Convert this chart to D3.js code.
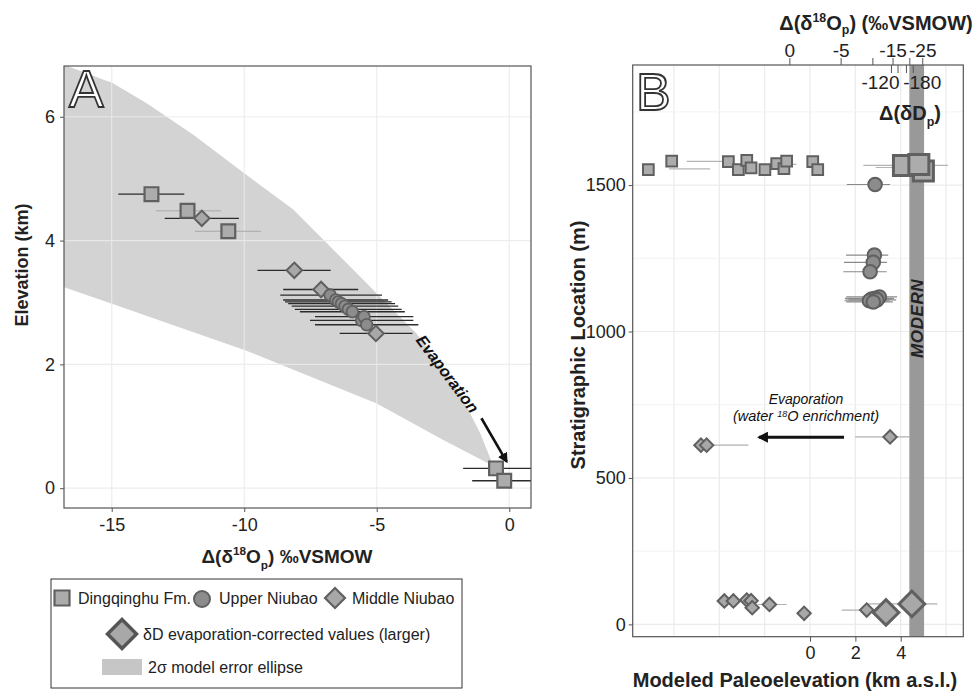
<!DOCTYPE html>
<html>
<head>
<meta charset="utf-8">
<script src="https://cdn.jsdelivr.net/npm/d3@7"></script>
<style>
  body { margin: 0; background: #fff; }
  svg { display: block; font-family: "Liberation Sans", Arial, sans-serif; }
</style>
</head>
<body>
<div id="chart"></div>
<script>
// ---------- Panel A data (Δ(δ18Op) ‰ vs elevation km) ----------
const aSqX  = [-13.5, -12.14, -10.6, -0.5, -0.19];
const aSqY  = [4.75, 4.48, 4.15, 0.32, 0.12];
const aSqLo = [-14.75, -13.34, -11.86, -1.74, -1.4];
const aSqHi = [-12.26, -10.88, -9.37, 0.9, 0.9];

const aCiX  = [-6.76, -6.55, -6.45, -6.33, -6.2, -6.07, -5.92, -5.57, -5.48, -5.38];
const aCiY  = [3.12, 3.04, 3.01, 2.98, 2.94, 2.89, 2.85, 2.71, 2.77, 2.64];
const aCiLo = [-8.64, -8.53, -8.46, -8.34, -8.21, -8.09, -7.9, -7.52, -7.33, -7.33];
const aCiHi = [-4.8, -4.57, -4.44, -4.31, -4.19, -4.06, -3.94, -3.62, -3.62, -3.43];

const aDiX  = [-11.6, -8.11, -7.1, -5.03];
const aDiY  = [4.36, 3.52, 3.21, 2.5];
const aDiLo = [-13.0, -9.5, -8.53, -6.4];
const aDiHi = [-10.2, -6.74, -5.7, -3.65];

// 2σ model error envelope
const bandUpX = [-17.5, -16.8, -14.95, -13.68, -11.92, -10.16, -8.15, -6.26, -3.5, -1.86, -1.1, -0.6];
const bandUpY = [7.2, 6.84, 6.54, 6.22, 5.71, 5.14, 4.5, 3.69, 2.5, 1.53, 0.89, 0.36];
const bandLoX = [-0.6, -2.49, -5.0, -9.97, -15.07, -17.5];
const bandLoY = [0.36, 0.78, 1.37, 2.23, 2.99, 3.35];

const aXTicks = [-15, -10, -5, 0];
const aYTicks = [0, 2, 4, 6];

// ---------- Panel B data (paleoelevation km vs stratigraphic m) ----------
const bSqElev  = [-7.13, -6.1, -3.6, -3.16, -2.79, -2.6, -1.99, -1.47, -1.15, -1.03, 0.12, 0.34];
const bSqStrat = [1553, 1582, 1580, 1553, 1584, 1559, 1553, 1573, 1556, 1582, 1580, 1553];
const bBigSqElev  = [5.0, 4.12, 4.8];
const bBigSqStrat = [1548, 1567, 1570];
const bSqBarStrat = [1581, 1555, 1571, 1567, 1560];
const bSqBarLo    = [-5.44, -6.22, -1.47, 2.35, 2.9];
const bSqBarHi    = [-3.68, -4.41, -0.6, 6.09, 5.3];

const bCiElev  = [2.87, 2.84, 2.79, 2.65, 3.06, 2.87, 2.72, 2.95, 2.62, 2.79];
const bCiStrat = [1502, 1261, 1236, 1204, 1118, 1113, 1111, 1108, 1105, 1101];
const bCiLo    = [1.62, 1.59, 1.5, 1.47, 1.6, 1.54, 1.56, 1.7, 1.52, 1.6];
const bCiHi    = [3.53, 3.45, 3.4, 3.38, 3.84, 3.7, 3.6, 3.8, 3.5, 3.65];

const bDiElev  = [3.53, -4.81, -4.56, -3.78, -3.38, -2.79, -2.6, -2.55, -1.79, -0.26, 2.5];
const bDiStrat = [640, 612, 612, 80, 80, 83, 81, 57, 68, 38, 49];
const bDiBarStrat = [640, 612, 68, 49];
const bDiBarLo    = [1.99, -4.56, -2.29, 1.4];
const bDiBarHi    = [4.38, -2.72, -1.03, 2.5];
const bBigDiElev  = [3.35, 4.49];
const bBigDiStrat = [41, 70];
const bBigDiBarLo = [3.35, 2.5];
const bBigDiBarHi = [3.35, 5.62];

const modernRange = [4.38, 5.03];
const bXTicks = [0, 2, 4];
const bXGrid  = [-6, -4, -2, 0, 2, 4, 6];
const bYTicks = [0, 500, 1000, 1500];
const bYMinor = [250, 750, 1250, 1750];

// secondary top axes (isotope values placed at their equivalent elevation)
const topO18Vals   = [0, -5, -10, -15, -20, -25];
const topO18Elev   = [-0.91, 1.35, 2.75, 3.64, 4.38, 4.95];
const topO18Labels = ["0", "-5", "", "-15", "", "-25"];
const topDDVals    = [-120, -140, -160, -180];
const topDDElev    = [3.57, 3.86, 4.23, 4.53];
const topDDLabels  = ["-120", "", "", "-180"];

// ---------- Setup ----------
const W = 974, H = 693;
const svg = d3.select("#chart").append("svg").attr("width", W).attr("height", H);

const FILL_SQ = "#acacac", FILL_CI = "#8c8c8c", FILL_DI = "#a8a8a8";
const STROKE_MK = "#606060";
const GRID = "#ebebeb";

const xA = d3.scaleLinear().domain([-16.8, 0.82]).range([64, 531]);
const yA = d3.scaleLinear().domain([-0.32, 6.82]).range([508, 66]);
const xB = d3.scaleLinear().domain([-7.82, 6.76]).range([632.7, 963.3]);
const yB = d3.scaleLinear().domain([-42, 1910]).range([636.7, 65]);

const defs = svg.append("defs");
defs.append("clipPath").attr("id", "clipA").append("rect")
  .attr("x", 64).attr("y", 66).attr("width", 467).attr("height", 442);
defs.append("clipPath").attr("id", "clipB").append("rect")
  .attr("x", 632.7).attr("y", 65).attr("width", 330.6).attr("height", 571.7);
defs.append("marker").attr("id", "arrow").attr("viewBox", "0 0 10 10")
  .attr("refX", 8).attr("refY", 5).attr("markerWidth", 4).attr("markerHeight", 4)
  .attr("orient", "auto")
  .append("path").attr("d", "M0,0 L10,5 L0,10 Z").attr("fill", "#111");

// rich text helper: parts = [[text, kind]]  kind: "", "sup", "sub"
function rich(sel, parts, size, supK = 0.4, subK = 0.3) {
  let shift = 0;
  parts.forEach(([t, kind]) => {
    const target = kind === "sup" ? -supK * size : kind === "sub" ? subK * size : 0;
    sel.append("tspan")
      .attr("dy", target - shift)
      .style("font-size", kind ? `${size * 0.62}px` : `${size}px`)
      .text(t);
    shift = target;
  });
}

const sym = (type, area) => d3.symbol().type(type).size(area)();

// ---------- Panel A ----------
const gA = svg.append("g");
const plotA = gA.append("g").attr("clip-path", "url(#clipA)");

const bandPts = bandUpX.map((x, i) => [x, bandUpY[i]])
  .concat(bandLoX.map((x, i) => [x, bandLoY[i]]));
plotA.append("path")
  .attr("d", d3.line().x(d => xA(d[0])).y(d => yA(d[1]))(bandPts) + "Z")
  .attr("fill", "#d3d3d3");

// grid
plotA.selectAll(".gx").data(aXTicks).enter().append("line")
  .attr("x1", d => xA(d)).attr("x2", d => xA(d)).attr("y1", 66).attr("y2", 508)
  .attr("stroke", GRID).attr("stroke-width", 1.2).attr("opacity", 0.85);
plotA.selectAll(".gy").data(aYTicks).enter().append("line")
  .attr("y1", d => yA(d)).attr("y2", d => yA(d)).attr("x1", 64).attr("x2", 531)
  .attr("stroke", GRID).attr("stroke-width", 1.2).attr("opacity", 0.85);

// error bars
const lightSq = [1, 2];
plotA.selectAll(".ebSq").data(aSqX).enter().append("line")
  .attr("x1", (d, i) => xA(aSqLo[i])).attr("x2", (d, i) => xA(aSqHi[i]))
  .attr("y1", (d, i) => yA(aSqY[i])).attr("y2", (d, i) => yA(aSqY[i]))
  .attr("stroke", (d, i) => lightSq.includes(i) ? "#a9a9a9" : "#2b2b2b")
  .attr("stroke-width", (d, i) => lightSq.includes(i) ? 1 : 1.3);
plotA.selectAll(".ebCi").data(aCiX).enter().append("line")
  .attr("x1", (d, i) => xA(aCiLo[i])).attr("x2", (d, i) => xA(aCiHi[i]))
  .attr("y1", (d, i) => yA(aCiY[i])).attr("y2", (d, i) => yA(aCiY[i]))
  .attr("stroke", "#2b2b2b").attr("stroke-width", 1.3);
plotA.selectAll(".ebDi").data(aDiX).enter().append("line")
  .attr("x1", (d, i) => xA(aDiLo[i])).attr("x2", (d, i) => xA(aDiHi[i]))
  .attr("y1", (d, i) => yA(aDiY[i])).attr("y2", (d, i) => yA(aDiY[i]))
  .attr("stroke", "#2b2b2b").attr("stroke-width", 1.3);

// markers
plotA.selectAll(".sqA").data(aSqX).enter().append("path")
  .attr("d", sym(d3.symbolSquare, 190))
  .attr("transform", (d, i) => `translate(${xA(d)},${yA(aSqY[i])})`)
  .attr("fill", FILL_SQ).attr("stroke", STROKE_MK).attr("stroke-width", 2.2);
plotA.selectAll(".diA").data(aDiX).enter().append("path")
  .attr("d", sym(d3.symbolSquare, 120))
  .attr("transform", (d, i) => `translate(${xA(d)},${yA(aDiY[i])}) rotate(45)`)
  .attr("fill", FILL_DI).attr("stroke", STROKE_MK).attr("stroke-width", 2);
plotA.selectAll(".ciA").data(aCiX).enter().append("circle")
  .attr("cx", d => xA(d)).attr("cy", (d, i) => yA(aCiY[i])).attr("r", 5.8)
  .attr("fill", FILL_CI).attr("stroke", STROKE_MK).attr("stroke-width", 1.8);

// evaporation annotation
plotA.append("line")
  .attr("x1", xA(-1.05)).attr("y1", yA(1.13)).attr("x2", xA(-0.1)).attr("y2", yA(0.43))
  .attr("stroke", "#111").attr("stroke-width", 2.6).attr("marker-end", "url(#arrow)");
plotA.append("text")
  .attr("transform", `translate(${xA(-2.35)},${yA(1.84)}) rotate(53)`)
  .attr("text-anchor", "middle").attr("dy", 5)
  .style("font-size", "16px").style("font-weight", "bold").style("font-style", "italic")
  .attr("fill", "#111").text("Evaporation");

gA.append("rect").attr("x", 64).attr("y", 66).attr("width", 467).attr("height", 442)
  .attr("fill", "none").attr("stroke", "#555").attr("stroke-width", 1.2);

gA.append("text").attr("x", 69).attr("y", 107)
  .style("font-size", "52px").attr("fill", "#fff").attr("stroke", "#333").attr("stroke-width", 1.8)
  .text("A");

// axes A
const axA = gA.append("g").attr("transform", "translate(0,508)")
  .call(d3.axisBottom(xA).tickValues(aXTicks).tickSize(4).tickPadding(6).tickFormat(d3.format("d")));
const ayA = gA.append("g").attr("transform", "translate(64,0)")
  .call(d3.axisLeft(yA).tickValues(aYTicks).tickSize(4).tickPadding(5));
[axA, ayA].forEach(a => {
  a.select(".domain").remove();
  a.selectAll(".tick line").attr("stroke", "#555");
  a.selectAll("text").style("font-size", "18px").attr("fill", "#222")
    .style("font-family", "'Liberation Sans', Arial, sans-serif");
});
axA.selectAll("text").text(d => d < 0 ? "-" + Math.abs(d) : d);

rich(gA.append("text").attr("x", 287).attr("y", 563).attr("text-anchor", "middle")
  .style("font-weight", "bold").attr("fill", "#222"),
  [["Δ(δ", ""], ["18", "sup"], ["O", ""], ["p", "sub"], [") ‰VSMOW", ""]], 19);

gA.append("text").attr("transform", "translate(28,265) rotate(-90)")
  .attr("text-anchor", "middle").style("font-size", "18px").style("font-weight", "bold")
  .attr("fill", "#222").text("Elevation (km)");

// legend
const lg = svg.append("g");
lg.append("rect").attr("x", 51).attr("y", 579).attr("width", 411).attr("height", 109)
  .attr("fill", "#fff").attr("stroke", "#333").attr("stroke-width", 1);
const lgFont = "16px";
lg.append("path").attr("d", sym(d3.symbolSquare, 225)).attr("transform", "translate(62,598)")
  .attr("fill", FILL_SQ).attr("stroke", STROKE_MK).attr("stroke-width", 2.2);
lg.append("text").attr("x", 78).attr("y", 604).style("font-size", lgFont).attr("fill", "#222").text("Dingqinghu Fm.");
lg.append("circle").attr("cx", 202).attr("cy", 599).attr("r", 8)
  .attr("fill", FILL_CI).attr("stroke", STROKE_MK).attr("stroke-width", 2);
lg.append("text").attr("x", 219).attr("y", 604).style("font-size", lgFont).attr("fill", "#222").text("Upper Niubao");
lg.append("path").attr("d", sym(d3.symbolSquare, 200)).attr("transform", "translate(335,598) rotate(45)")
  .attr("fill", FILL_DI).attr("stroke", STROKE_MK).attr("stroke-width", 2.2);
lg.append("text").attr("x", 352).attr("y", 604).style("font-size", lgFont).attr("fill", "#222").text("Middle Niubao");
lg.append("path").attr("d", sym(d3.symbolSquare, 420)).attr("transform", "translate(122,634) rotate(45)")
  .attr("fill", FILL_DI).attr("stroke", "#555").attr("stroke-width", 3.5);
lg.append("text").attr("x", 143).attr("y", 640).style("font-size", lgFont).attr("fill", "#222")
  .text("δD evaporation-corrected values (larger)");
lg.append("rect").attr("x", 102).attr("y", 659).attr("width", 40).attr("height", 16).attr("fill", "#c6c6c6");
lg.append("text").attr("x", 148).attr("y", 673).style("font-size", lgFont).attr("fill", "#222")
  .text("2σ model error ellipse");

// ---------- Panel B ----------
const gB = svg.append("g");
const plotB = gB.append("g").attr("clip-path", "url(#clipB)");

plotB.selectAll(".gbx").data(bXGrid).enter().append("line")
  .attr("x1", d => xB(d)).attr("x2", d => xB(d)).attr("y1", 65).attr("y2", 636.7)
  .attr("stroke", GRID).attr("stroke-width", 1.2);
plotB.selectAll(".gby").data(bYTicks).enter().append("line")
  .attr("y1", d => yB(d)).attr("y2", d => yB(d)).attr("x1", 632.7).attr("x2", 963.3)
  .attr("stroke", GRID).attr("stroke-width", 1.2);
plotB.selectAll(".gbym").data(bYMinor).enter().append("line")
  .attr("y1", d => yB(d)).attr("y2", d => yB(d)).attr("x1", 632.7).attr("x2", 963.3)
  .attr("stroke", "#f3f3f3").attr("stroke-width", 1);

// modern elevation band
plotB.append("rect")
  .attr("x", xB(modernRange[0])).attr("width", xB(modernRange[1]) - xB(modernRange[0]))
  .attr("y", 65).attr("height", 571.7).attr("fill", "#999");
plotB.append("text")
  .attr("transform", `translate(${(xB(modernRange[0]) + xB(modernRange[1])) / 2 + 6},${yB(1045)}) rotate(-90)`)
  .attr("text-anchor", "middle").style("font-size", "17px").style("font-weight", "bold")
  .style("font-style", "italic").style("letter-spacing", "0.6px").attr("fill", "#222").text("MODERN");

// error bars
const barLine = (sel, lo, hi, y, color, w) => sel
  .attr("x1", (d, i) => xB(lo[i])).attr("x2", (d, i) => xB(hi[i]))
  .attr("y1", (d, i) => yB(y[i])).attr("y2", (d, i) => yB(y[i]))
  .attr("stroke", color).attr("stroke-width", w);
barLine(plotB.selectAll(".eb1").data(bSqBarStrat).enter().append("line"), bSqBarLo, bSqBarHi, bSqBarStrat, "#b5b5b5", 1.2);
barLine(plotB.selectAll(".eb2").data(bCiStrat).enter().append("line"), bCiLo, bCiHi, bCiStrat, "#8a8a8a", 1.2);
barLine(plotB.selectAll(".eb3").data(bDiBarStrat).enter().append("line"), bDiBarLo, bDiBarHi, bDiBarStrat, "#b0b0b0", 1.2);
barLine(plotB.selectAll(".eb4").data(bBigDiStrat).enter().append("line"), bBigDiBarLo, bBigDiBarHi, bBigDiStrat, "#b0b0b0", 1.2);

// markers
plotB.selectAll(".sqB").data(bSqElev).enter().append("path")
  .attr("d", sym(d3.symbolSquare, 115))
  .attr("transform", (d, i) => `translate(${xB(d)},${yB(bSqStrat[i])})`)
  .attr("fill", FILL_SQ).attr("stroke", STROKE_MK).attr("stroke-width", 2);
plotB.selectAll(".bsqB").data(bBigSqElev).enter().append("path")
  .attr("d", sym(d3.symbolSquare, 400))
  .attr("transform", (d, i) => `translate(${xB(d)},${yB(bBigSqStrat[i])})`)
  .attr("fill", FILL_SQ).attr("stroke", STROKE_MK).attr("stroke-width", 3);
plotB.selectAll(".ciB").data(bCiElev).enter().append("circle")
  .attr("cx", d => xB(d)).attr("cy", (d, i) => yB(bCiStrat[i])).attr("r", 6.8)
  .attr("fill", FILL_CI).attr("stroke", STROKE_MK).attr("stroke-width", 2);
plotB.selectAll(".diB").data(bDiElev).enter().append("path")
  .attr("d", sym(d3.symbolSquare, 90))
  .attr("transform", (d, i) => `translate(${xB(d)},${yB(bDiStrat[i])}) rotate(45)`)
  .attr("fill", FILL_DI).attr("stroke", STROKE_MK).attr("stroke-width", 2);
plotB.selectAll(".bdiB").data(bBigDiElev).enter().append("path")
  .attr("d", sym(d3.symbolSquare, 330))
  .attr("transform", (d, i) => `translate(${xB(d)},${yB(bBigDiStrat[i])}) rotate(45)`)
  .attr("fill", FILL_DI).attr("stroke", STROKE_MK).attr("stroke-width", 3);

// evaporation note
plotB.append("line")
  .attr("x1", xB(1.5)).attr("x2", xB(-2.25)).attr("y1", yB(639)).attr("y2", yB(639))
  .attr("stroke", "#111").attr("stroke-width", 2.8).attr("marker-end", "url(#arrow)");
plotB.append("text").attr("x", 806).attr("y", yB(639) - 33).attr("text-anchor", "middle")
  .style("font-size", "14px").style("font-style", "italic").attr("fill", "#111").text("Evaporation");
rich(plotB.append("text").attr("x", 806).attr("y", yB(639) - 16).attr("text-anchor", "middle")
  .style("font-style", "italic").attr("fill", "#111"),
  [["(water ", ""], ["18", "sup"], ["O enrichment)", ""]], 14.5, 0.3);

gB.append("rect").attr("x", 632.7).attr("y", 65).attr("width", 330.6).attr("height", 571.7)
  .attr("fill", "none").attr("stroke", "#555").attr("stroke-width", 1.2);

gB.append("text").attr("x", 636).attr("y", 110)
  .style("font-size", "52px").attr("fill", "#fff").attr("stroke", "#333").attr("stroke-width", 1.8)
  .text("B");

// axes B
const axB = gB.append("g").attr("transform", "translate(0,636.7)")
  .call(d3.axisBottom(xB).tickValues(bXTicks).tickSize(5).tickPadding(5));
const ayB = gB.append("g").attr("transform", "translate(632.7,0)")
  .call(d3.axisLeft(yB).tickValues(bYTicks).tickSize(4).tickPadding(3).tickFormat(d3.format("d")));
const topB = gB.append("g").attr("transform", "translate(0,65)")
  .call(d3.axisTop(xB).tickValues(topO18Elev).tickSize(7).tickPadding(1)
    .tickFormat((d, i) => topO18Labels[i]));
const ddB = gB.append("g").attr("transform", "translate(0,65)")
  .call(d3.axisBottom(xB).tickValues(topDDElev).tickSize(8).tickPadding(3)
    .tickFormat((d, i) => topDDLabels[i]));
[axB, ayB, topB, ddB].forEach(a => {
  a.select(".domain").remove();
  a.selectAll(".tick line").attr("stroke", "#555");
  a.selectAll("text").style("font-size", "18px").attr("fill", "#222")
    .style("font-family", "'Liberation Sans', Arial, sans-serif");
});
topB.selectAll("text").style("font-size", "19px");
ddB.selectAll("text").style("font-size", "19px")
  .attr("dx", (d, i) => i === 0 ? -11 : i === 3 ? 9 : 0);

rich(gB.append("text").attr("x", 876).attr("y", 30).attr("text-anchor", "middle")
  .style("font-weight", "bold").attr("fill", "#222"),
  [["Δ(δ", ""], ["18", "sup"], ["O", ""], ["p", "sub"], [") (‰VSMOW)", ""]], 20, 0.4, 0.22);
rich(gB.append("text").attr("x", 910).attr("y", 120).attr("text-anchor", "middle")
  .style("font-weight", "bold").attr("fill", "#222"),
  [["Δ(δD", ""], ["p", "sub"], [")", ""]], 20);

gB.append("text").attr("x", 795).attr("y", 687).attr("text-anchor", "middle")
  .style("font-size", "20px").style("font-weight", "bold").attr("fill", "#222")
  .text("Modeled Paleoelevation (km a.s.l.)");
gB.append("text").attr("transform", "translate(585,345) rotate(-90)")
  .attr("text-anchor", "middle").style("font-size", "20px").style("font-weight", "bold")
  .attr("fill", "#222").text("Stratigraphic Location (m)");
</script>
</body>
</html>
